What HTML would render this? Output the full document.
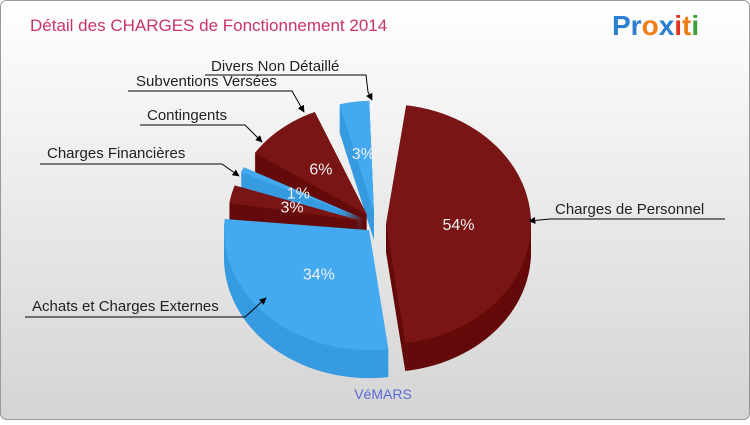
<!DOCTYPE html>
<html><head><meta charset="utf-8"><style>
body{margin:0;width:750px;height:420px;overflow:hidden;font-family:"Liberation Sans",sans-serif}
</style></head><body>
<svg width="750" height="420" xmlns="http://www.w3.org/2000/svg">
<defs>
<linearGradient id="bg" x1="0" y1="0" x2="0" y2="1"><stop offset="0" stop-color="#ffffff"/><stop offset="1" stop-color="#d4d4d4"/></linearGradient>
<marker id="ar" viewBox="0 0 10 10" refX="9" refY="5" markerWidth="7" markerHeight="7" orient="auto"><path d="M0,0L10,5L0,10z" fill="#000"/></marker>
</defs>
<rect x="0.5" y="0.5" width="749" height="419" rx="6" fill="url(#bg)" stroke="#999"/>
<text x="30" y="31" font-size="17" fill="#c8336e">Détail des CHARGES de Fonctionnement 2014</text>
<g font-size="28" font-weight="bold" font-family="'Liberation Sans',sans-serif">
<text x="612" y="35"><tspan fill="#2a7fd0">Pr</tspan><tspan fill="#f07f18">o</tspan><tspan fill="#2a7fd0">x</tspan><tspan fill="#e0321e">i</tspan><tspan fill="#f07f18">t</tspan><tspan fill="#3aa03a">i</tspan></text>
</g>
<g id="pie"></g>
<g id="labels" font-size="15" fill="#222">
<text x="555" y="214">Charges de Personnel</text>
<polyline points="725,219 550,219 529,221" fill="none" stroke="#000" marker-end="url(#ar)"/>
<text x="32" y="311">Achats et Charges Externes</text>
<polyline points="25,317 245,317 266,298" fill="none" stroke="#000" marker-end="url(#ar)"/>
<text x="47" y="158">Charges Financières</text>
<polyline points="40,164 222,164 239,176" fill="none" stroke="#000" marker-end="url(#ar)"/>
<text x="147" y="120">Contingents</text>
<polyline points="140,125 245,125 262,142" fill="none" stroke="#000" marker-end="url(#ar)"/>
<text x="136" y="86">Subventions Versées</text>
<polyline points="128,91 292,91 304,112" fill="none" stroke="#000" marker-end="url(#ar)"/>
<text x="211" y="71">Divers Non Détaillé</text>
<polyline points="205,75 366,75 368,92 372,100" fill="none" stroke="#000" marker-end="url(#ar)"/>
</g>
<text x="383" y="399" font-size="14" fill="#5a6ad8" text-anchor="middle">VéMARS</text>
</svg>
<script>
const categories=["Charges de Personnel","Achats et Charges Externes","Charges Financières","Contingents","Subventions Versées","Divers Non Détaillé"];
const values=[54,34,3,1,6,3];
const pctLabels=["54%","34%","3%","1%","6%","3%"];
const NS="http://www.w3.org/2000/svg";
const pie=document.getElementById('pie');
const cx=376,cy=224,rx=145,ry=120,depth=28;
const warpF=[0,0.54,0.88,1];
const warpA=[-82,84,188,272];
function warp(f){for(let k=1;k<warpF.length;k++){if(f<=warpF[k]+1e-9){const t=(f-warpF[k-1])/(warpF[k]-warpF[k-1]);return warpA[k-1]+t*(warpA[k]-warpA[k-1]);}}return warpA[warpA.length-1];}
const colors=[["#7a1515","#650a0a"],["#43a9f0","#379be0"]];
const total=values.reduce((a,b)=>a+b,0);
let cum=0;const sl=[];
values.forEach((v,i)=>{let s=warp(cum/total);cum+=v;let e=warp(cum/total);
 if(i>=2){const g=Math.min(4,(e-s)*0.3);s+=g;e-=g;}
 sl.push({i,s,e,m:(s+e)/2});});
function offs(o){const r=Math.PI/180;return [Math.cos(o.m*r)*o.ex,Math.sin(o.m*r)*o.ex*0.85];}
function pathFor(o,dy){const r=Math.PI/180;const [ox,oy]=offs(o);
 const x=cx+ox,y=cy+oy+dy;let d=`M${x},${y}`;const n=Math.max(4,Math.ceil((o.e-o.s)/3));
 const R=o.i<2?1:0.93;
 for(let k=0;k<=n;k++){const t=(o.s+(o.e-o.s)*k/n)*r;d+=`L${x+rx*R*Math.cos(t)},${y+ry*R*Math.sin(t)}`;}
 return d+'Z';}
sl.forEach(o=>{o.ex=o.i<2?10:14;});
const order=sl.slice().sort((p,q)=>Math.sin(p.m*Math.PI/180)-Math.sin(q.m*Math.PI/180));
order.forEach(o=>{
 const g=document.createElementNS(NS,'g');
 
 
 const c=colors[o.i%2];
 for(let d=depth;d>0;d-=1){const p=document.createElementNS(NS,'path');p.setAttribute('d',pathFor(o,d));p.setAttribute('fill',c[1]);g.appendChild(p);}
 const top=document.createElementNS(NS,'path');top.setAttribute('d',pathFor(o,0));top.setAttribute('fill',c[0]);g.appendChild(top);
 pie.appendChild(g);
});
sl.forEach(o=>{const r=Math.PI/180;const f=0.5;const [ox,oy]=offs(o);
 const t=document.createElementNS(NS,'text');
 
 
 t.setAttribute('x',cx+ox+Math.cos(o.m*r)*rx*f);t.setAttribute('y',cy+oy+Math.sin(o.m*r)*ry*f+6);
 t.setAttribute('text-anchor','middle');t.setAttribute('font-size','16');t.setAttribute('fill','#f0f0f0');
 t.textContent=pctLabels[o.i];pie.appendChild(t);});
</script>
</body></html>
